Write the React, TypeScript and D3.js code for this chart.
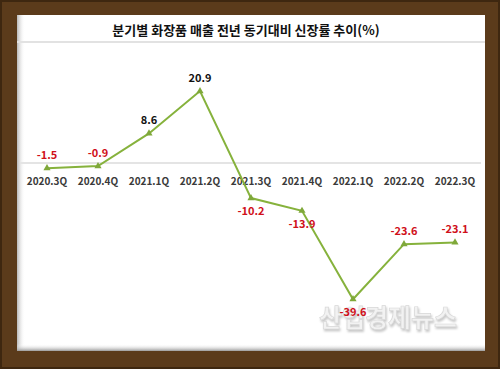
import React, { useRef, useEffect } from "react";
import * as d3 from "d3";

const quarters = ["2020.3Q", "2020.4Q", "2021.1Q", "2021.2Q", "2021.3Q", "2021.4Q", "2022.1Q", "2022.2Q", "2022.3Q"];
const growth = [-1.5, -0.9, 8.6, 20.9, -10.2, -13.9, -39.6, -23.6, -23.1];
const title = "분기별 화장품 매출 전년 동기대비 신장률 추이(%)";
const watermark = "산업경제뉴스";

const App = () => {
  const container = useRef<SVGSVGElement>(null);

  const width = 500;
  const height = 369;
  const font = "'Noto Sans CJK KR', 'Noto Sans', sans-serif";

  useEffect(() => {
    document.body.style.margin = "0";
    const svg = d3.select(container.current);
    svg.selectAll("*").remove();

    const defs = svg.append("defs");
    const lg = defs.append("linearGradient").attr("id", "leftShade").attr("x1", 0).attr("x2", 1);
    lg.append("stop").attr("offset", 0).attr("stop-color", "#b8b8b8");
    lg.append("stop").attr("offset", 1).attr("stop-color", "#ffffff").attr("stop-opacity", 0);
    const bg = defs.append("linearGradient").attr("id", "bottomShade").attr("x1", 0).attr("x2", 0).attr("y1", 0).attr("y2", 1);
    bg.append("stop").attr("offset", 0).attr("stop-color", "#ffffff").attr("stop-opacity", 0);
    bg.append("stop").attr("offset", 1).attr("stop-color", "#9a9a9a");

    // frame
    svg.append("rect").attr("width", width).attr("height", height).attr("fill", "#5b3b1b");
    svg.append("rect").attr("x", 1).attr("y", 1).attr("width", width - 2).attr("height", height - 2)
      .attr("fill", "none").attr("stroke", "#3e2710").attr("stroke-width", 2);

    // white panel
    const px = 17, py = 15, pw = 468, ph = 336;
    svg.append("rect").attr("x", px).attr("y", py).attr("width", pw).attr("height", ph).attr("fill", "#ffffff");
    svg.append("rect").attr("x", px).attr("y", py).attr("width", 8).attr("height", ph).attr("fill", "url(#leftShade)");
    svg.append("rect").attr("x", px).attr("y", py + ph - 7).attr("width", pw).attr("height", 7).attr("fill", "url(#bottomShade)");

    // title
    svg.append("text").attr("x", 246).attr("y", 35).attr("text-anchor", "middle")
      .style("font-family", font).style("font-size", "13px").style("font-weight", "bold").style("fill", "#111")
      .text(title);
    svg.append("line").attr("x1", px).attr("x2", px + pw).attr("y1", 42).attr("y2", 42)
      .attr("stroke", "#e2e2e2").attr("stroke-width", 2);

    // scales
    const xScale = d3.scalePoint<string>().domain(quarters).range([47, 455]);
    const yScale = d3.scaleLinear().domain([-40, 25]).range([300.6, 77]);

    // zero line
    svg.append("line").attr("x1", 20).attr("x2", 481).attr("y1", yScale(0)).attr("y2", yScale(0))
      .attr("stroke", "#e4e4e4").attr("stroke-width", 2);

    // category labels
    svg.append("g").selectAll("text").data(quarters).enter().append("text")
      .attr("x", d => xScale(d) as number).attr("y", yScale(0) + 22).attr("text-anchor", "middle")
      .style("font-family", font).style("font-size", "10px").style("font-weight", "bold").style("fill", "#3a3a3a")
      .text(d => d);

    // watermark
    svg.append("text").attr("x", 388).attr("y", 327).attr("text-anchor", "middle")
      .style("font-family", font).style("font-size", "25px").style("font-weight", "bold")
      .style("fill", "#f2f2f2").style("stroke", "#d8d8d8").style("stroke-width", 0.7)
      .style("filter", "drop-shadow(1px 2px 1px rgba(0,0,0,0.22))")
      .text(watermark);

    // line
    const pts = quarters.map((q, i) => ({ q, v: growth[i], i }));
    const line = d3.line<{ q: string; v: number }>().x(d => xScale(d.q) as number).y(d => yScale(d.v));
    svg.append("path").datum(pts).attr("d", line).attr("fill", "none")
      .attr("stroke", "#86b23c").attr("stroke-width", 2);

    // markers
    const tri = d3.symbol().type(d3.symbolTriangle).size(22);
    svg.append("g").selectAll("path").data(pts).enter().append("path")
      .attr("d", tri).attr("transform", d => `translate(${xScale(d.q)},${yScale(d.v)})`)
      .attr("fill", "#7fa83a");

    // value labels
    svg.append("g").selectAll("text").data(pts).enter().append("text")
      .attr("x", d => xScale(d.q) as number)
      .attr("y", d => {
        const below = d.i > 0 && d.v < growth[d.i - 1];
        return below ? yScale(d.v) + 17 : yScale(d.v) - 9;
      })
      .attr("text-anchor", "middle")
      .style("font-family", font).style("font-size", "11px").style("font-weight", "bold")
      .style("fill", d => (d.v < 0 ? "#d0101a" : "#111"))
      .text(d => d.v.toFixed(1));
  }, []);

  return <svg ref={container} width={width} height={height} style={{ display: "block" }} />;
};

export default App;
